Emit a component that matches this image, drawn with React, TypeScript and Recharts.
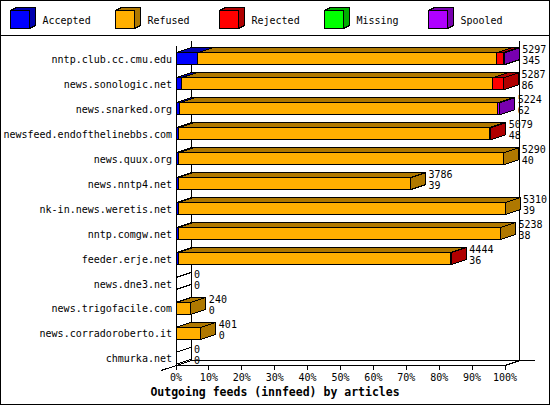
import React from 'react';
import { BarChart, Bar, XAxis, YAxis, Customized } from 'recharts';

const hosts = [
  'nntp.club.cc.cmu.edu',
  'news.sonologic.net',
  'news.snarked.org',
  'newsfeed.endofthelinebbs.com',
  'news.quux.org',
  'news.nntp4.net',
  'nk-in.news.weretis.net',
  'nntp.comgw.net',
  'feeder.erje.net',
  'news.dne3.net',
  'news.trigofacile.com',
  'news.corradoroberto.it',
  'chmurka.net',
];

// offered articles (first label line) per feed
const totals = [5297, 5287, 5224, 5079, 5290, 3786, 5310, 5238, 4444, 0, 240, 401, 0];
const accepted = [345, 86, 62, 48, 40, 39, 39, 38, 36, 0, 0, 0, 0];
const refused = [4829, 5026, 5132, 5006, 5250, 3747, 5271, 5200, 4393, 0, 240, 401, 0];
const rejected = [105, 175, 0, 25, 0, 0, 0, 0, 15, 0, 0, 0, 0];
const missing = [0, 0, 0, 0, 0, 0, 0, 0, 0, 0, 0, 0, 0];
const spooled = [18, 0, 30, 0, 0, 0, 0, 0, 0, 0, 0, 0, 0];

const seriesNames = ['Accepted', 'Refused', 'Rejected', 'Missing', 'Spooled'];
const frontColors = ['#0000ff', '#ffaf00', '#ff0000', '#00ff00', '#af00ff'];
const darkColors = ['#0000af', '#af7800', '#af0000', '#00af00', '#7800af'];
const tickLabels = ['0%', '10%', '20%', '30%', '40%', '50%', '60%', '70%', '80%', '90%', '100%'];

const seriesValues = [accepted, refused, rejected, missing, spooled];
const data = hosts.map((host, i) => {
  const row: any = { host, total: totals[i] };
  seriesNames.forEach((name, s) => {
    row[name] = seriesValues[s][i];
  });
  return row;
});

const maxTotal = Math.max(...totals);
const ticks = tickLabels.map((_, i) => (maxTotal * i) / 10);

const FONT = '"DejaVu Sans Mono", monospace';
const DX = 15;
const DY = 5;

const makeShape = (si: number) => (props: any) => {
  const { x, y, width, height, payload } = props;
  const vals = seriesNames.map((n) => payload[n]);
  const last = si === seriesNames.length - 1;
  const parts: React.ReactNode[] = [];

  if (vals[si] > 0) {
    const isEnd = vals.slice(si + 1).every((v) => v <= 0);
    parts.push(
      <polygon
        key="top"
        points={`${x},${y} ${x + DX},${y - DY} ${x + width + DX},${y - DY} ${x + width},${y}`}
        fill={darkColors[si]}
        stroke="#000"
      />
    );
    if (isEnd) {
      parts.push(
        <polygon
          key="side"
          points={`${x + width},${y} ${x + width + DX},${y - DY} ${x + width + DX},${y + height - DY} ${x + width},${y + height}`}
          fill={darkColors[si]}
          stroke="#000"
        />
      );
    }
    parts.push(
      <rect key="front" x={x} y={y} width={width} height={height} fill={frontColors[si]} stroke="#000" />
    );
  }

  if (last) {
    const end = x + width;
    if (payload.total <= 0) {
      parts.push(
        <line key="d1" x1={end} y1={y} x2={end + DX} y2={y - DY} stroke="#000" />,
        <line key="d2" x1={end} y1={y + height} x2={end + DX} y2={y + height - DY} stroke="#000" />
      );
    }
    parts.push(
      <text key="l1" x={end + DX + 3} y={y - 3} fontSize={10} fontFamily={FONT} dominantBaseline="central">
        {payload.total}
      </text>,
      <text key="l2" x={end + DX + 3} y={y + 8} fontSize={10} fontFamily={FONT} dominantBaseline="central">
        {payload.Accepted}
      </text>
    );
  }
  return <g>{parts}</g>;
};

const HostTick = (props: any) => {
  const { x, y, payload } = props;
  return (
    <text x={x} y={y} textAnchor="end" dominantBaseline="central" fontSize={10} fontFamily={FONT} fill="#000">
      {payload.value}
    </text>
  );
};

const PercentTick = (props: any) => {
  const { x, y, index } = props;
  const axisY = y - 6;
  return (
    <g>
      <line x1={x} y1={axisY} x2={x} y2={axisY + 5} stroke="#000" />
      <text x={x} y={axisY + 12.5} textAnchor="middle" dominantBaseline="central" fontSize={10} fontFamily={FONT} fill="#000">
        {tickLabels[index]}
      </text>
    </g>
  );
};

const Frame = () => (
  <g>
    <line x1={176.5} y1={46} x2={176.5} y2={365.5} stroke="#000" />
    <line x1={191.5} y1={41} x2={191.5} y2={360.5} stroke="#000" />
    <line x1={519.5} y1={40.5} x2={519.5} y2={360.5} stroke="#000" />
    <line x1={191.5} y1={360.5} x2={535} y2={360.5} stroke="#000" />
    <polyline points="176,365.5 505,365.5 520,360.5" fill="none" stroke="#000" />
    <line x1={161} y1={370.5} x2={191.5} y2={360.5} stroke="#000" />
  </g>
);

const Legend3D = () => (
  <g>
    <rect x={0.5} y={0.5} width={549} height={404} fill="none" stroke="#000" />
    <line x1={0} y1={35.5} x2={550} y2={35.5} stroke="#000" />
    {seriesNames.map((name, i) => {
      const x0 = 10.5 + Math.round(i * 104.5);
      const y0 = 10.5;
      const w = 19;
      const h = 18;
      return (
        <g key={name}>
          <polygon
            points={`${x0},${y0} ${x0 + 6},${y0 - 3} ${x0 + w + 6},${y0 - 3} ${x0 + w + 6},${y0 + h - 3} ${x0 + w},${y0 + h} ${x0 + w},${y0}`}
            fill={darkColors[i]}
            stroke="#000"
          />
          <rect x={x0} y={y0} width={w} height={h} fill={frontColors[i]} stroke="#000" />
          <text x={x0 + 32} y={20} dominantBaseline="central" fontSize={10} fontFamily={FONT} fill="#000">
            {name}
          </text>
        </g>
      );
    })}
    <text x={275} y={392} textAnchor="middle" dominantBaseline="central" fontSize={11.5} fontWeight="bold" fontFamily={FONT} fill="#000">
      Outgoing feeds (innfeed) by articles
    </text>
  </g>
);

export default function App() {
  return (
    <div style={{ position: 'absolute', left: 0, top: 0, width: 550, height: 405, background: '#fff' }}>
      <BarChart
        width={550}
        height={405}
        data={data}
        layout="vertical"
        margin={{ top: 46.8, right: 45, bottom: 13.6, left: 6 }}
        barSize={12}
        style={{ shapeRendering: 'crispEdges' }}
      >
        <Customized component={Frame} />
        <XAxis
          type="number"
          domain={[0, maxTotal]}
          ticks={ticks}
          interval={0}
          height={20}
          axisLine={false}
          tickLine={false}
          tickSize={0}
          tickMargin={0}
          tick={<PercentTick />}
        />
        <YAxis
          type="category"
          dataKey="host"
          width={170}
          axisLine={false}
          tickLine={false}
          tickSize={0}
          tickMargin={4}
          interval={0}
          tick={<HostTick />}
        />
        {seriesNames.map((name, si) => (
          <Bar key={name} dataKey={name} stackId="a" isAnimationActive={false} shape={makeShape(si)} />
        ))}
        <Customized component={Legend3D} />
      </BarChart>
    </div>
  );
}
